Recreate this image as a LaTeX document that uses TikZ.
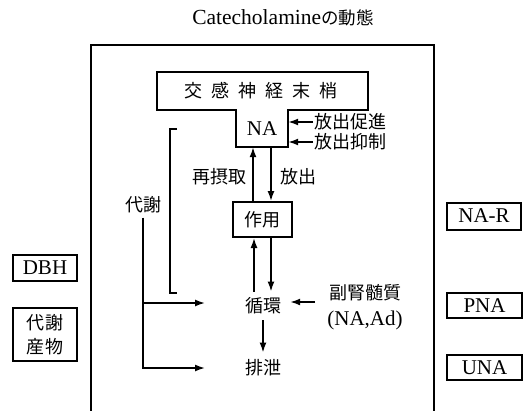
\documentclass[tikz,border=0pt]{standalone}
\usepackage{fontspec}
\setmainfont{Liberation Serif}
\newfontfamily\jp{Noto Sans CJK JP}
\usetikzlibrary{arrows.meta}
\begin{document}
\begin{tikzpicture}[x=1pt,y=-1pt,
  lat/.style={font=\fontsize{21}{23}\selectfont, inner sep=0pt},
  jtxt/.style={font=\fontsize{18}{24}\selectfont\jp, inner sep=0pt},
  box/.style={draw, line width=2pt, inner sep=0pt},
  arr/.style={-{Latex[length=10pt,width=7pt]}, line width=1.6pt},
  ln/.style={line width=1.6pt}]
\useasboundingbox (0,0) rectangle (532,410);

% title
\node[font=\fontsize{21.5}{23}\selectfont, inner sep=0pt] (title) at (283,18) {Catecholamine{\fontsize{17.5}{20}\selectfont\jp の動態}};

% outer frame
\draw[line width=1.6pt] (91,412) -- (91,45) -- (434,45) -- (434,412);

% T-shaped nerve terminal
\draw[line width=2pt] (157,72) -- (368,72) -- (368,110) -- (288,110) -- (288,147)
  -- (236,147) -- (236,110) -- (157,110) -- cycle;
\node[jtxt] (nerve) at (261,91) {交\hspace{9pt}感\hspace{9pt}神\hspace{9pt}経\hspace{9pt}末\hspace{9pt}梢};
\node[lat, minimum width=52pt, minimum height=37pt] (na) at (262,128.5) {NA};

% release modulators
\node[jtxt, anchor=west] (prom) at (314,122) {放出促進};
\node[jtxt, anchor=west] (inhi) at (314,142) {放出抑制};
\draw[arr] ([xshift=-1pt]prom.west) -- (na.east |- prom.west);
\draw[arr] ([xshift=-1pt]inhi.west) -- (na.east |- inhi.west);

% action
\node[box, jtxt, minimum width=59pt, minimum height=35pt] (act) at (262,219.5) {作用};
\draw[arr] ([xshift=-9pt]act.north) -- ([xshift=-9pt]act.north |- na.south);
\draw[arr] ([xshift=9pt]na.south) -- ([xshift=9pt]na.south |- act.north);
\node[jtxt] (reup) at (219,177) {再摂取};
\node[jtxt] (rel) at (298,177) {放出};

% circulation
\node[jtxt, inner xsep=9pt, inner ysep=6pt] (circ) at (263,306) {循環};
\draw[arr] ([xshift=-8pt]act.south |- circ.north) -- ([xshift=-8pt]act.south);
\draw[arr] ([xshift=9pt]act.south) -- ([xshift=9pt]act.south |- circ.north);
\node[jtxt, inner ysep=7pt] (exc) at (263,368) {排泄};
\draw[arr] (circ.south) -- (exc.north);

% adrenal medulla
\node[jtxt] (adr1) at (365,293) {副腎髄質};
\node[lat] (adr2) at (365,320) {(NA,Ad)};
\coordinate (adrin) at (315,302);
\draw[arr] (adrin) -- (circ.east |- adrin);

% metabolism
\node[jtxt, inner sep=4pt] (met) at (143,205) {代謝};
\coordinate (m1) at (205,303);
\coordinate (m2) at (205,368);
\draw[arr] (met.south) |- (m2);
\draw[arr] (met.south |- m1) -- (m1);

% bracket
\coordinate (bt) at (177,129);
\coordinate (bb) at (177,293);
\draw[ln] (bt) -- (170,129) -- (170,293) -- (bb);

% side boxes
\node[box, lat, minimum width=64pt, minimum height=26pt] (dbh) at (45,268) {DBH};
\node[box, jtxt, align=center, minimum width=64pt, minimum height=53pt] (metab) at (45,334.5) {代謝\\産物};
\node[box, lat, minimum width=74pt, minimum height=27pt] (nar) at (484,216) {NA-R};
\node[box, lat, minimum width=75pt, minimum height=25pt] (pna) at (484.5,305.5) {PNA};
\node[box, lat, minimum width=75pt, minimum height=25pt] (una) at (484.5,367.5) {UNA};
\end{tikzpicture}
\end{document}
